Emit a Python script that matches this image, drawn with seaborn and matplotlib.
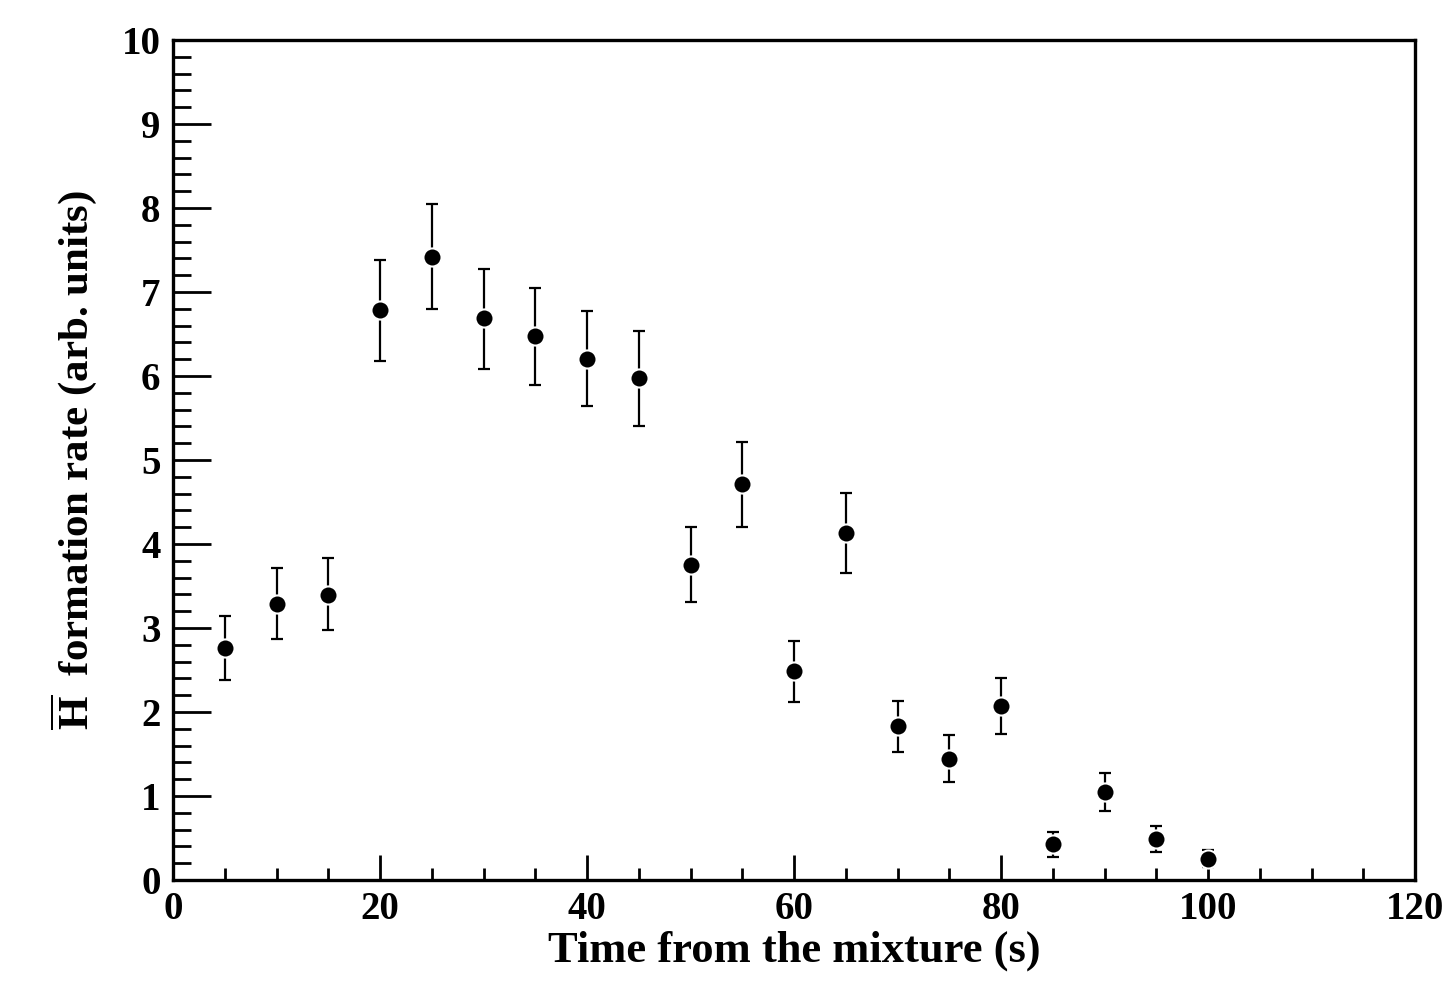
import matplotlib
matplotlib.use("Agg")
import matplotlib.pyplot as plt
import seaborn as sns
import numpy as np
import pandas as pd
from matplotlib.ticker import MultipleLocator

time_s = [5, 10, 15, 20, 25, 30, 35, 40, 45, 50, 55, 60, 65, 70, 75, 80, 85, 90, 95, 100]
rate = [2.76, 3.29, 3.39, 6.79, 7.42, 6.69, 6.48, 6.20, 5.98, 3.75,
        4.71, 2.49, 4.13, 1.83, 1.44, 2.07, 0.43, 1.05, 0.49, 0.25]
err_up = [0.38, 0.42, 0.44, 0.59, 0.63, 0.58, 0.57, 0.57, 0.56, 0.45,
          0.50, 0.36, 0.48, 0.30, 0.29, 0.33, 0.14, 0.22, 0.15, 0.11]
err_down = [0.38, 0.42, 0.41, 0.61, 0.62, 0.61, 0.59, 0.56, 0.58, 0.44,
            0.51, 0.37, 0.48, 0.31, 0.27, 0.33, 0.16, 0.23, 0.16, 0.10]

df = pd.DataFrame({"time": time_s, "rate": rate})

sns.set_style("ticks")
plt.rcParams["font.family"] = ["Liberation Serif", "DejaVu Serif"]
plt.rcParams["font.weight"] = "bold"
plt.rcParams["text.color"] = "black"
plt.rcParams["axes.labelcolor"] = "black"
plt.rcParams["mathtext.fontset"] = "custom"
plt.rcParams["mathtext.rm"] = "Liberation Serif"
plt.rcParams["mathtext.bf"] = "Liberation Serif:bold"

fig = plt.figure(figsize=(14.43, 9.82), dpi=100)
ax = fig.add_axes([0.1199, 0.1039, 0.8607, 0.8554])

ax.errorbar(df["time"], df["rate"], yerr=[err_down, err_up], fmt="none",
            ecolor="black", elinewidth=1.6, capsize=4, capthick=1.6, zorder=2)
sns.scatterplot(data=df, x="time", y="rate", ax=ax, color="black", s=170,
                edgecolor="white", linewidth=1.5, zorder=3)

ax.set_xlim(0, 120)
ax.set_ylim(0, 10)
ax.xaxis.set_major_locator(MultipleLocator(20))
ax.xaxis.set_minor_locator(MultipleLocator(5))
ax.yaxis.set_major_locator(MultipleLocator(1))
ax.yaxis.set_minor_locator(MultipleLocator(0.2))

for sp in ax.spines.values():
    sp.set_linewidth(2.4)
    sp.set_color("black")

ax.tick_params(axis="both", which="both", direction="in", width=2.0, colors="black",
               labelcolor="black", top=False, right=False)
ax.tick_params(axis="x", which="major", length=18, pad=8, labelsize=28)
ax.tick_params(axis="x", which="minor", length=9)
ax.tick_params(axis="y", which="major", length=27, pad=9, labelsize=28)
ax.tick_params(axis="y", which="minor", length=13)
for lab in ax.get_xticklabels() + ax.get_yticklabels():
    lab.set_fontweight("bold")

ax.set_xlabel("Time from the mixture (s)", fontsize=32, fontweight="bold",
              color="black", labelpad=2)
ax.set_ylabel(r"$\overline{\mathbf{H}}$  formation rate (arb. units)", fontsize=31,
              fontweight="bold", color="black", labelpad=16)

fig.savefig("out.png", dpi=100, facecolor="white")
